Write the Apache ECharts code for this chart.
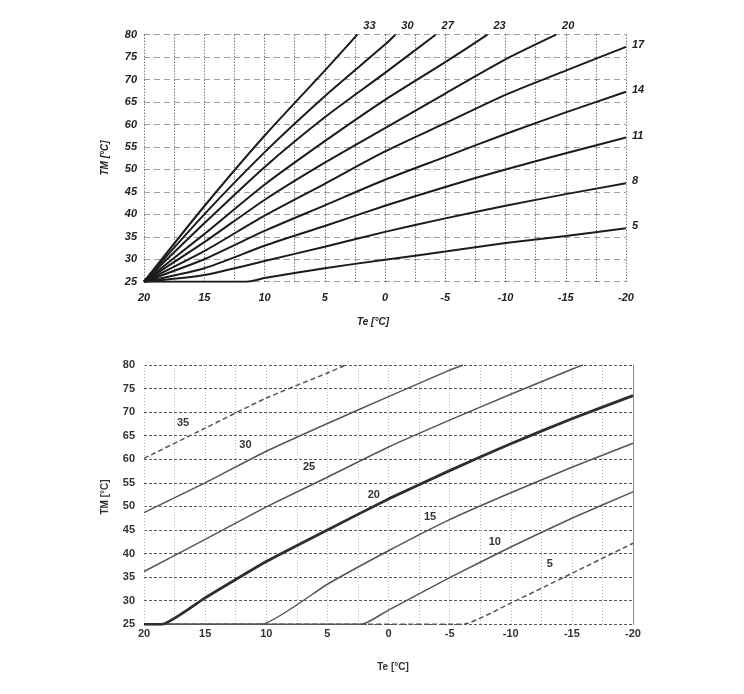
<!DOCTYPE html>
<html>
<head>
<meta charset="utf-8">
<script src="https://cdn.jsdelivr.net/npm/echarts/dist/echarts.min.js"></script>
<style>
html,body{margin:0;padding:0;background:#fff;}
#c{width:744px;height:694px;}
</style>
</head>
<body>
<div id="c"></div>
<script>
// ---------- DATA ----------
// Top chart: heating curves, [Te, TM]
const topNames = ['33', '30', '27', '23', '20', '17', '14', '11', '8', '5'];
const top33 = [[20,25],[15,41.8],[10,57.5],[5,72],[2.3,80]];
const top30 = [[20,25],[15,40],[10,53.8],[5,66.3],[0,77.8],[-0.86,80]];
const top27 = [[20,25],[15,38],[10,50.5],[5,61.6],[0,71.5],[-4.2,80]];
const top23 = [[20,25],[15,35.6],[10,46.6],[5,56.3],[0,65.5],[-5,73.9],[-8.5,80]];
const top20 = [[20,25],[15,33.8],[10,43.2],[5,51.5],[0,59.2],[-5,66.9],[-10,74.5],[-14.2,80]];
const top17 = [[20,25],[15,31.8],[10,39.7],[5,46.8],[0,54],[-5,60.3],[-10,66.6],[-15,72],[-20,77.3]];
const top14 = [[20,25],[15,30],[10,36.3],[5,42],[0,47.7],[-5,52.8],[-10,57.9],[-15,62.7],[-20,67.3]];
const top11 = [[20,25],[15,28],[10,33],[5,37.4],[0,41.9],[-5,46.1],[-10,50],[-15,53.6],[-20,57.1]];
const top8  = [[20,25],[15,26.5],[10,29.6],[5,32.8],[0,36.1],[-5,39.1],[-10,41.9],[-15,44.5],[-20,46.9]];
const top5  = [[20,25],[11.5,25],[10,25.8],[5,28],[0,29.9],[-5,31.7],[-10,33.6],[-15,35.2],[-20,36.9]];
const topSeriesData = [top33, top30, top27, top23, top20, top17, top14, top11, top8, top5];

// Bottom chart: parallel-shift curves, [Te, TM]
const botNames = ['35', '30', '25', '20', '15', '10', '5'];
const bot35 = [[20,60.2],[15,66.6],[10,73],[5,78.3],[3.5,80]];
const bot30 = [[20,48.7],[15,55],[10,61.7],[5,67.6],[0,73.3],[-5,78.9],[-6.1,80]];
const bot25 = [[20,36.2],[15,43],[10,49.9],[5,56.2],[0,62.6],[-5,68.3],[-10,73.8],[-15,79.1],[-15.9,80]];
const bot20 = [[20,25],[18.55,25],[15,30.6],[10,38.3],[5,45],[0,51.6],[-5,57.6],[-10,63.3],[-15,68.6],[-20,73.5]];
const bot15 = [[20,25],[10.4,25],[5,33.5],[0,40.6],[-5,47.2],[-10,52.9],[-15,58.3],[-20,63.4]];
const bot10 = [[20,25],[2.2,25],[0,28],[-5,34.9],[-10,41.4],[-15,47.5],[-20,53.1]];
const bot5  = [[20,25],[-6.1,25],[-10,29.5],[-15,35.8],[-20,42.2]];
const botSeriesData = [bot35, bot30, bot25, bot20, bot15, bot10, bot5];
// where each bottom curve label sits, in data units [Te, TM]
const botLabelAt = [[16.8,67.7],[11.7,63.1],[6.5,58.3],[1.2,52.5],[-3.4,47.8],[-8.7,42.4],[-13.2,37.9]];

// Axis ticks
const teMin = -20, teMax = 20, teStep = 5;
const tmMin = 25, tmMax = 80, tmStep = 5;

// ---------- CHART ----------
const chart = echarts.init(document.getElementById('c'), null, {renderer: 'canvas'});
const FONT = '"Liberation Sans", Arial, sans-serif';

function xAx(gridIndex, labelStyle, gridMain, gridMinor, margin) {
  return {
    type: 'value', gridIndex: gridIndex, min: teMin, max: teMax, interval: teStep, inverse: true,
    axisLine: {show: false}, axisTick: {show: false},
    axisLabel: Object.assign({margin: margin, fontSize: 11, fontFamily: FONT, fontWeight: 'bold', color: '#222'}, labelStyle),
    splitLine: {show: true, lineStyle: gridMain},
    minorTick: {show: false, splitNumber: 2},
    minorSplitLine: {show: true, lineStyle: gridMinor}
  };
}
function yAx(gridIndex, labelStyle, gridMain, margin) {
  return {
    type: 'value', gridIndex: gridIndex, min: tmMin, max: tmMax, interval: tmStep,
    axisLine: {show: false}, axisTick: {show: false},
    axisLabel: Object.assign({margin: margin, fontSize: 11, fontFamily: FONT, fontWeight: 'bold', color: '#222'}, labelStyle),
    splitLine: {show: true, lineStyle: gridMain}
  };
}

const topVert = {color: '#3a3a3a', width: 1, type: [1, 2]};
const topHorz = {color: '#a0a0a0', width: 1, type: [6, 4]};
const botVert = {color: '#b8b8b8', width: 1, type: [1, 2]};
const botHorz = {color: '#5a5a5a', width: 1, type: [3, 2]};

const series = [];
topSeriesData.forEach(function (d, i) {
  series.push({
    type: 'line', name: 'top' + topNames[i], xAxisIndex: 0, yAxisIndex: 0,
    data: d, symbol: 'none', smooth: 0.25, animation: false,
    lineStyle: {color: '#1c1c1c', width: 2}, z: 5
  });
});
botSeriesData.forEach(function (d, i) {
  const name = botNames[i];
  const dashed = (name === '35' || name === '5');
  const thick = (name === '20');
  series.push({
    type: 'line', name: 'bot' + name, xAxisIndex: 1, yAxisIndex: 1,
    data: d, symbol: 'none', smooth: 0.15, animation: false,
    lineStyle: {color: thick ? '#2e2e2e' : '#555', width: thick ? 2.8 : 1.5, type: dashed ? [5, 3] : 'solid'},
    z: thick ? 6 : 5
  });
});

const option = {
  animation: false,
  backgroundColor: '#ffffff',
  grid: [
    {left: 144, top: 34.7, width: 482, height: 247, containLabel: false},
    {left: 144, top: 365, width: 489, height: 259.3, containLabel: false}
  ],
  xAxis: [
    xAx(0, {fontStyle: 'italic'}, topVert, topVert, 11),
    xAx(1, {color: '#333'}, botVert, botVert, 4)
  ],
  yAxis: [
    yAx(0, {fontStyle: 'italic'}, topHorz, 7),
    yAx(1, {color: '#333'}, botHorz, 9),
    {type: 'value', gridIndex: 1, position: 'right', min: tmMin, max: tmMax, interval: tmStep,
     axisLine: {show: true, lineStyle: {color: '#888', width: 1}}, axisTick: {show: false},
     axisLabel: {show: false}, splitLine: {show: false}}
  ],
  series: series
};
chart.setOption(option);

// ---------- LABELS (positioned through the chart's scales) ----------
const graphics = [];
topSeriesData.forEach(function (d, i) {
  const last = d[d.length - 1];
  const p = chart.convertToPixel({gridIndex: 0}, last);
  const atTop = last[1] >= tmMax - 0.01;
  graphics.push({
    type: 'text', x: p[0] + 6, y: atTop ? p[1] - 9 : p[1] - 2,
    style: {text: topNames[i], font: 'italic bold 11px ' + FONT, fill: '#222',
            textAlign: 'left', textVerticalAlign: 'middle'}
  });
});
botLabelAt.forEach(function (pt, i) {
  const p = chart.convertToPixel({gridIndex: 1}, pt);
  graphics.push({
    type: 'text', x: p[0], y: p[1],
    style: {text: botNames[i], font: 'bold 11px ' + FONT, fill: '#333',
            textAlign: 'center', textVerticalAlign: 'middle'}
  });
});
// axis titles
graphics.push(
  {type: 'text', x: 105, y: 158, rotation: Math.PI / 2,
   style: {text: 'TM [°C]', font: 'italic bold 10px ' + FONT, fill: '#222', textAlign: 'center', textVerticalAlign: 'middle'}},
  {type: 'text', x: 373, y: 322,
   style: {text: 'Te [°C]', font: 'italic bold 10px ' + FONT, fill: '#222', textAlign: 'center', textVerticalAlign: 'middle'}},
  {type: 'text', x: 105, y: 497, rotation: Math.PI / 2,
   style: {text: 'TM [°C]', font: 'bold 10px ' + FONT, fill: '#333', textAlign: 'center', textVerticalAlign: 'middle'}},
  {type: 'text', x: 393, y: 667,
   style: {text: 'Te [°C]', font: 'bold 10px ' + FONT, fill: '#333', textAlign: 'center', textVerticalAlign: 'middle'}}
);
chart.setOption({graphic: graphics});
</script>
</body>
</html>
